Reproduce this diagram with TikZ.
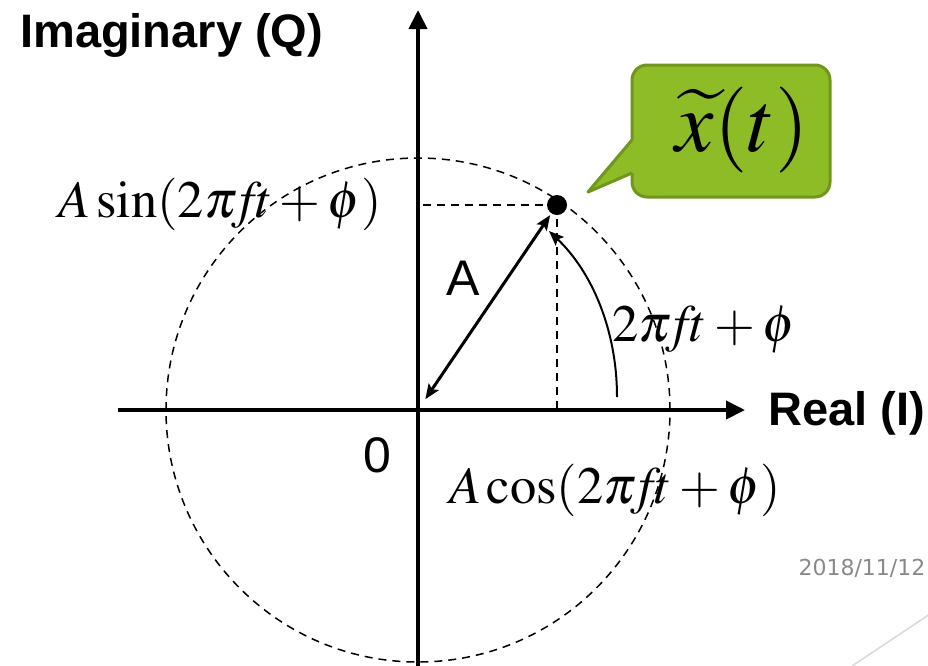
\documentclass[tikz,border=0pt]{standalone}
\usepackage{mathptmx}
\usepackage{fontspec}
\setmainfont{Liberation Serif}
\setsansfont{Liberation Sans}
\newfontfamily\datefont{DejaVu Sans}
\usetikzlibrary{arrows.meta,calc}
\definecolor{callfill}{RGB}{142,188,38}
\definecolor{callline}{RGB}{112,150,30}
\definecolor{dategray}{RGB}{137,137,137}
\definecolor{linegray}{RGB}{217,217,217}
\tikzset{
  axis/.style={line width=4pt,-{Triangle[length=19pt,width=18pt]}},
  guide/.style={line width=1.5pt,dash pattern=on 8pt off 6pt},
  amparrow/.style={line width=3pt,{Stealth[length=15pt,width=12pt,inset=3pt]}-{Stealth[length=15pt,width=12pt,inset=3pt]}},
  phasearrow/.style={line width=2pt,-{Stealth[length=15pt,width=12pt,inset=3pt]}},
  dot/.style={circle,fill=black,inner sep=0pt,minimum size=20pt},
  sanslbl/.style={font=\sffamily\bfseries\fontsize{47}{52}\selectfont,inner sep=0pt},
  plainlbl/.style={font=\sffamily\fontsize{50}{56}\selectfont,inner sep=0pt},
  mathlbl/.style={font=\fontsize{52.5}{58}\selectfont,inner sep=0pt},
}
\begin{document}
\begin{tikzpicture}[x=1pt,y=-1pt]
\useasboundingbox (0,0) rectangle (928,665);
\coordinate (O) at (418,410);
\coordinate (xl) at (118,410);
\coordinate (xr) at (745,410);
\coordinate (yb) at (418,668);
\coordinate (yt) at (418,10);
% circle
\draw[guide] (O) circle [radius=252pt];
% axes
\draw[axis] (xl) -- (xr);
\draw[axis] (yb) -- (yt);
% point
\node[dot] (P) at (557,205) {};
\draw[guide] (P.center) -- (P.center |- O);
\draw[guide] (P.center) -- (O |- P.center);
% amplitude arrow
\draw[amparrow, shorten <=13pt, shorten >=2pt] (O) -- (P);
% phase arc
\coordinate (arcS) at (617,397);
\coordinate (arcE) at (549,231);
\draw[phasearrow] (arcS) .. controls (617,330) and (592,272) .. (arcE);
% labels
\node[sanslbl, anchor=west] (imag) at (20,35) {Imaginary (Q)};
\node[sanslbl, anchor=west] (real) at (768,413) {Real (I)};
\node[plainlbl] (zero) at (377,455) {0};
\node[plainlbl] (alab) at (463,278) {A};
\node[mathlbl] (sinlbl) at (220,204) {$A\,\mathrm{sin}(2\pi\!f\!t+\phi)$};
\node[mathlbl] (cosl) at (615,490) {$A\,\mathrm{cos}(2\pi\!f\!t+\phi)$};
\node[mathlbl] (phl) at (704,330) {$2\pi\!f\!t+\phi$};
% callout
\draw[fill=callfill, draw=callline, line width=3pt, rounded corners=15pt] (632,65) rectangle (830,197);
\fill[callfill] (588,192) -- (632,140) -- (642,140) -- (642,173) -- (632,173) -- cycle;
\draw[callline, line width=3pt, line join=round] (632,140) -- (588,192) -- (632,173);
\node[font=\fontsize{86}{90}\selectfont, inner sep=0pt] (xt) at (742,130) {$\widetilde{x}(t)$};
% date and decoration
\node[font=\datefont\fontsize{22}{24}\selectfont, text=dategray, inner sep=0pt] (date) at (862,568) {2018/11/12};
\coordinate (d1) at (852,666);
\coordinate (d2) at (930,614);
\draw[linegray, line width=1.5pt] (d1) -- (d2);
\end{tikzpicture}
\end{document}
